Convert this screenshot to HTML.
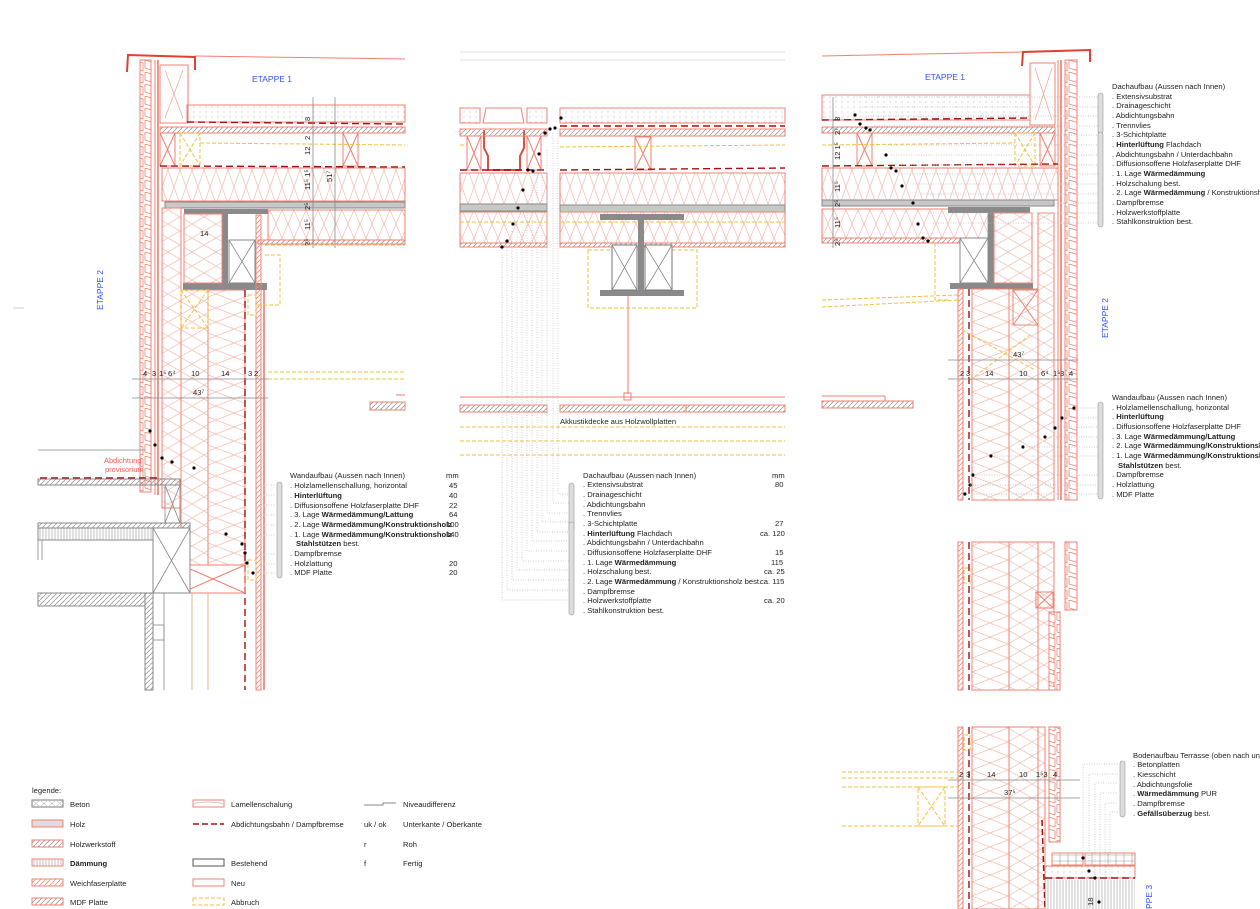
<!DOCTYPE html>
<html><head><meta charset="utf-8"><style>
html,body{margin:0;padding:0;background:#fff;}
svg{display:block;font-family:"Liberation Sans",sans-serif;}
.t{font-size:7.6px;fill:#222;}
.b{font-weight:bold;}
.bl{fill:#3050ff;font-size:8.5px;}
.r{stroke:#f08070;fill:none;stroke-width:1;}
.rd{stroke:#e05040;fill:none;stroke-width:1.2;}
.y{stroke:#f5c040;fill:none;stroke-dasharray:4 2;stroke-width:1;}
.g{stroke:#888;fill:none;stroke-width:0.8;}
.d{stroke:#bbb;fill:none;stroke-width:0.7;stroke-dasharray:1 1.5;}
.mb{stroke:#a01010;fill:none;stroke-width:1.4;stroke-dasharray:7 4;}
</style></head><body>
<svg width="1260" height="909" viewBox="0 0 1260 909" xmlns="http://www.w3.org/2000/svg">
<defs>
<pattern id="insh" width="12" height="34" patternUnits="userSpaceOnUse"><path d="M0,0 L12,34 M12,0 L0,34" stroke="#f6b8ad" stroke-width="0.7" fill="none"/></pattern>
<pattern id="insh2" width="12" height="28" patternUnits="userSpaceOnUse"><path d="M0,0 L12,28 M12,0 L0,28" stroke="#f6b8ad" stroke-width="0.7" fill="none"/></pattern>
<pattern id="insv" width="36" height="14" patternUnits="userSpaceOnUse"><path d="M0,0 L36,14 M0,14 L36,0" stroke="#f6b8ad" stroke-width="0.7" fill="none"/></pattern>
<pattern id="insv2" width="24" height="14" patternUnits="userSpaceOnUse"><path d="M0,0 L24,14 M0,14 L24,0" stroke="#f6b8ad" stroke-width="0.7" fill="none"/></pattern>
<pattern id="hat" width="5" height="5" patternUnits="userSpaceOnUse"><path d="M0,5 L5,0" stroke="#999" stroke-width="0.8"/></pattern>
<pattern id="hatr" width="5" height="5" patternUnits="userSpaceOnUse"><path d="M0,5 L5,0" stroke="#f09080" stroke-width="0.8"/></pattern>
<pattern id="dots" width="6" height="5" patternUnits="userSpaceOnUse"><circle cx="2" cy="2" r="0.5" fill="#999"/></pattern>
<pattern id="clad" width="12" height="12" patternUnits="userSpaceOnUse"><path d="M1,0 L11,3 L11,11 L1,8 Z" stroke="#f08070" fill="#fff" stroke-width="0.8"/></pattern>
<pattern id="vh" width="3" height="10" patternUnits="userSpaceOnUse"><path d="M1,0 L1,10" stroke="#999" stroke-width="0.6"/></pattern>
<pattern id="grid" width="8" height="6" patternUnits="userSpaceOnUse"><path d="M0,3 L8,3 M4,0 L4,6" stroke="#999" stroke-width="0.6"/></pattern>
</defs>

<!-- ========== LEFT DETAIL ========== -->
<path d="M127,72 L128,55 L195,57 L195,70" stroke="#e04030" stroke-width="2" fill="none"/>
<line x1="195" y1="56" x2="405" y2="59" class="r"/>
<rect x="140" y="60" width="11" height="432" fill="url(#clad)" stroke="#f08070"/>
<line x1="155" y1="60" x2="155" y2="495" class="r"/><line x1="158" y1="60" x2="158" y2="495" class="rd"/>
<rect x="160" y="65" width="28" height="58" class="r"/>
<path d="M165,70 L183,118 M183,70 L165,118" stroke="#f3a090" stroke-width=".7"/>
<rect x="187" y="105" width="218" height="17" fill="url(#dots)" stroke="#f08070"/>
<line x1="187" y1="122" x2="405" y2="124" class="mb"/>
<rect x="160" y="127" width="245" height="6" fill="url(#hat)" stroke="#f08070"/>
<rect x="160" y="133" width="15" height="33" class="r"/><path d="M160,133 L175,166 M175,133 L160,166" class="r"/>
<rect x="180" y="133" width="20" height="33" class="y"/><path d="M180,133 L200,166 M200,133 L180,166" class="y"/>
<rect x="343" y="133" width="15" height="33" class="r"/><path d="M343,133 L358,166 M358,133 L343,166" class="r"/>
<line x1="200" y1="143" x2="405" y2="145" class="y"/>
<line x1="160" y1="166" x2="405" y2="167" class="mb"/>
<rect x="162" y="168" width="243" height="33" fill="url(#insh)" stroke="#f08070"/>
<rect x="165" y="202" width="240" height="6" fill="#c8c8c8" stroke="#888"/>
<rect x="268" y="210" width="137" height="30" fill="url(#insh2)" stroke="#f08070"/>
<rect x="258" y="240" width="147" height="4" fill="url(#hat)" stroke="#f08070"/>
<rect x="184" y="209" width="84" height="5" fill="#8a8a8a"/>
<rect x="222" y="214" width="6" height="69" fill="#8a8a8a"/>
<rect x="183" y="283" width="84" height="7" fill="#8a8a8a"/>
<rect x="229" y="240" width="26" height="43" fill="#fff" stroke="#888"/><path d="M229,240 L255,283 M255,240 L229,283" class="g"/>
<rect x="184" y="214" width="38" height="69" fill="url(#insv2)" stroke="#f08070"/>
<text x="200" y="236" class="t">14</text>
<line x1="313" y1="97" x2="313" y2="248" class="g"/><line x1="335" y1="97" x2="335" y2="248" class="g"/>
<g class="t"><text transform="translate(310,121) rotate(-90)">8</text><text transform="translate(310,140) rotate(-90)">2</text><text transform="translate(310,155) rotate(-90)">12</text><text transform="translate(310,190) rotate(-90)">11⁵ 1⁵</text><text transform="translate(332,182) rotate(-90)">51⁷</text><text transform="translate(310,210) rotate(-90)">2⁵</text><text transform="translate(310,230) rotate(-90)">11⁵</text><text transform="translate(310,246) rotate(-90)">2⁵</text></g>
<!-- wall -->
<rect x="162" y="208" width="19" height="300" fill="url(#insv2)" stroke="#f08070"/>
<rect x="181" y="290" width="27" height="275" fill="url(#insv2)" stroke="#f08070"/>
<rect x="208" y="290" width="37" height="275" fill="url(#insv)" stroke="#f08070"/>
<line x1="245" y1="290" x2="245" y2="690" class="mb"/>
<rect x="256" y="215" width="5" height="475" fill="url(#hatr)" stroke="#f08070"/>
<line x1="264" y1="290" x2="264" y2="690" class="rd"/>
<rect x="181" y="290" width="27" height="38" class="y"/><path d="M181,290 L208,328 M208,290 L181,328" class="y"/>
<rect x="248" y="295" width="8" height="20" class="y"/><rect x="248" y="560" width="8" height="20" class="y"/>
<path d="M265,245 L405,245 M265,255 L280,255 L280,305 L255,305" class="y"/>
<line x1="268" y1="372" x2="405" y2="372" class="y"/><line x1="268" y1="379" x2="405" y2="379" class="y"/>
<line x1="132" y1="379" x2="268" y2="379" class="g"/><line x1="132" y1="398" x2="268" y2="398" class="g"/>
<g class="t"><text x="143" y="376">4</text><text x="152" y="376">3</text><text x="159" y="376">1⁵</text><text x="168" y="376">6⁴</text><text x="191" y="376">10</text><text x="221" y="376">14</text><text x="248" y="376">3</text><text x="254" y="376">2</text><text x="193" y="395">43⁷</text></g>
<rect x="370" y="402" width="35" height="8" fill="url(#hat)" stroke="#f08070"/><line x1="396" y1="395" x2="405" y2="395" class="r"/>
<rect x="181" y="565" width="64" height="28" class="r"/><path d="M181,565 L245,593 M245,565 L181,593" class="r"/>
<line x1="192" y1="593" x2="192" y2="690" stroke="#d0a060" stroke-width=".7"/><line x1="208" y1="593" x2="208" y2="690" stroke="#d0a060" stroke-width=".7"/>
<!-- lower-left existing -->
<line x1="38" y1="450" x2="145" y2="450" class="g"/>
<text x="104" y="463" fill="#f06050" font-size="7.5px">Abdichtung</text><text x="105" y="472" fill="#f06050" font-size="7.5px">provisorium</text>
<line x1="40" y1="478" x2="157" y2="478" class="mb"/>
<rect x="38" y="479" width="142" height="6" fill="url(#hat)" stroke="#888"/>
<rect x="165" y="485" width="15" height="38" class="g"/><path d="M165,485 L180,523 M180,485 L165,523" class="g"/>
<rect x="38" y="523" width="152" height="5" fill="url(#hat)" stroke="#888"/>
<rect x="38" y="528" width="115" height="12" fill="url(#vh)" stroke="#888"/>
<line x1="38" y1="540" x2="38" y2="560" class="g"/><line x1="42" y1="540" x2="42" y2="560" class="g"/>
<rect x="153" y="528" width="37" height="65" fill="#fff" stroke="#888"/><path d="M153,528 L190,593 M190,528 L153,593" class="g"/>
<rect x="38" y="593" width="107" height="13" fill="url(#hat)" stroke="#888"/>
<rect x="145" y="593" width="8" height="97" fill="url(#hat)" stroke="#888"/><line x1="164" y1="593" x2="164" y2="690" class="g"/>
<rect x="153" y="625" width="11" height="15" class="g"/>
<g fill="#000"><circle cx="150" cy="431" r="1.6"/><circle cx="155" cy="445" r="1.6"/><circle cx="162" cy="458" r="1.6"/><circle cx="172" cy="462" r="1.6"/><circle cx="194" cy="468" r="1.6"/><circle cx="226" cy="534" r="1.6"/><circle cx="242" cy="544" r="1.6"/><circle cx="245" cy="553" r="1.6"/><circle cx="247" cy="563" r="1.6"/><circle cx="253" cy="573" r="1.6"/></g>
<text x="252" y="82" class="bl">ETAPPE 1</text>
<text transform="translate(103,310) rotate(-90)" class="bl">ETAPPE 2</text>
<line x1="13" y1="308" x2="24" y2="308" stroke="#ccc"/>
<g class="d"><path d="M256,485 H276 M256,495 H276 M256,505 H276 M256,515 H276 M256,525 H276 M256,535 H276 M256,554 H276 M256,564 H276 M256,573 H276"/></g>
<rect x="277" y="482" width="5" height="96" rx="2.5" fill="#ddd" stroke="#999" stroke-width=".6"/>
<g class="t">
<text x="290" y="478">Wandaufbau (Aussen nach Innen)</text><text x="446" y="478">mm</text>
<text x="290" y="488">.  Holzlamellenschallung, horizontal</text><text x="449" y="488">45</text>
<text x="290" y="498">.  <tspan class="b">Hinterlüftung</tspan></text><text x="449" y="498">40</text>
<text x="290" y="508">.  Diffusionsoffene Holzfaserplatte DHF</text><text x="449" y="508">22</text>
<text x="290" y="517">.  3. Lage <tspan class="b">Wärmedämmung/Lattung</tspan></text><text x="449" y="517">64</text>
<text x="290" y="527">.  2. Lage <tspan class="b">Wärmedämmung/Konstruktionsholz</tspan></text><text x="446" y="527">100</text>
<text x="290" y="537">.  1. Lage <tspan class="b">Wärmedämmung/Konstruktionsholz</tspan></text><text x="446" y="537">140</text>
<text x="296" y="546"><tspan class="b">Stahlstützen</tspan> best.</text>
<text x="290" y="556">.  Dampfbremse</text>
<text x="290" y="566">.  Holzlattung</text><text x="449" y="566">20</text>
<text x="290" y="575">.  MDF Platte</text><text x="449" y="575">20</text>
</g>

<!-- ========== MIDDLE DETAIL ========== -->
<line x1="460" y1="52" x2="785" y2="52" stroke="#ddd"/><line x1="460" y1="60" x2="785" y2="60" stroke="#ddd"/>
<rect x="460" y="108" width="20" height="15" fill="url(#dots)" stroke="#f08070"/>
<rect x="527" y="108" width="20" height="15" fill="url(#dots)" stroke="#f08070"/>
<rect x="560" y="108" width="225" height="15" fill="url(#dots)" stroke="#f08070"/>
<path d="M483,123 L486,108 L521,108 L524,123 Z" class="r"/>
<path d="M484,130 L484,148 L488,156 L488,170 L520,170 L520,156 L524,148 L524,130" stroke="#e05040" stroke-width="2" fill="none"/>
<rect x="460" y="129" width="87" height="7" fill="url(#hat)" stroke="#f08070"/>
<rect x="560" y="129" width="225" height="7" fill="url(#hat)" stroke="#f08070"/>
<line x1="560" y1="126" x2="785" y2="126" class="mb"/>
<rect x="467" y="136" width="14" height="34" class="r"/><path d="M467,136 L481,170 M481,136 L467,170" class="r"/>
<rect x="527" y="136" width="14" height="34" class="r"/><path d="M527,136 L541,170 M541,136 L527,170" class="r"/>
<rect x="635" y="137" width="16" height="33" class="r"/><path d="M635,137 L651,170 M651,137 L635,170" class="r"/>
<line x1="560" y1="147" x2="785" y2="145" class="y"/><line x1="460" y1="145" x2="467" y2="145" class="y"/>
<line x1="460" y1="170" x2="547" y2="170" class="mb"/><line x1="560" y1="170" x2="785" y2="168" class="mb"/>
<rect x="460" y="173" width="87" height="32" fill="url(#insh)" stroke="#f08070"/>
<rect x="560" y="173" width="225" height="32" fill="url(#insh)" stroke="#f08070"/>
<rect x="460" y="204" width="87" height="7" fill="#c8c8c8" stroke="#888"/>
<rect x="560" y="205" width="225" height="7" fill="#c8c8c8" stroke="#888"/>
<rect x="460" y="212" width="87" height="31" fill="url(#insh2)" stroke="#f08070"/>
<rect x="560" y="212" width="225" height="31" fill="url(#insh2)" stroke="#f08070"/>
<line x1="460" y1="222" x2="547" y2="222" class="y"/><line x1="560" y1="222" x2="785" y2="222" class="y"/>
<rect x="460" y="243" width="87" height="4" fill="url(#hat)" stroke="#f08070"/>
<rect x="560" y="243" width="225" height="4" fill="url(#hat)" stroke="#f08070"/>
<rect x="588" y="250" width="109" height="58" class="y"/>
<rect x="600" y="214" width="84" height="6" fill="#8a8a8a"/>
<rect x="638" y="220" width="6" height="70" fill="#8a8a8a"/>
<rect x="600" y="290" width="84" height="6" fill="#8a8a8a"/>
<rect x="612" y="245" width="25" height="45" fill="#fff" stroke="#777"/><path d="M612,245 L637,290 M637,245 L612,290" class="g"/>
<rect x="645" y="245" width="27" height="45" fill="#fff" stroke="#777"/><path d="M645,245 L672,290 M672,245 L645,290" class="g"/>
<line x1="628" y1="296" x2="628" y2="394" class="r"/><rect x="624" y="393" width="7" height="7" class="r"/>
<line x1="460" y1="397" x2="785" y2="397" class="r"/>
<rect x="460" y="405" width="87" height="7" fill="url(#hat)" stroke="#f08070"/>
<rect x="560" y="405" width="225" height="7" fill="url(#hat)" stroke="#f08070"/>
<line x1="686" y1="405" x2="686" y2="412" class="r"/>
<line x1="460" y1="427" x2="785" y2="427" class="y"/><line x1="460" y1="441" x2="785" y2="441" class="y"/><line x1="460" y1="455" x2="785" y2="455" class="y"/>
<text x="560" y="424" class="t">Akkustikdecke aus Holzwollplatten</text>
<g class="d">
<path d="M502,247 V600 H570 M507,240 V590 H570 M512,231 V580 H570 M517,222 V570 H570 M522,212 V561 H570 M527,200 V551 H570 M532,180 V541 H570 M537,172 V532 H570 M542,160 V522 H570 M547,150 V513 H570 M553,133 V503 H570 M558,128 V494 H570"/>
</g>
<g fill="#000"><circle cx="502" cy="247" r="1.6"/><circle cx="507" cy="241" r="1.6"/><circle cx="513" cy="224" r="1.6"/><circle cx="518" cy="208" r="1.6"/><circle cx="523" cy="190" r="1.6"/><circle cx="528" cy="170" r="1.6"/><circle cx="533" cy="171" r="1.6"/><circle cx="539" cy="154" r="1.6"/><circle cx="545" cy="133" r="1.6"/><circle cx="550" cy="129" r="1.6"/><circle cx="555" cy="128" r="1.6"/><circle cx="561" cy="118" r="1.6"/></g>
<rect x="569" y="483" width="5" height="49" rx="2.5" fill="#ddd" stroke="#999" stroke-width=".6"/>
<rect x="569" y="522" width="5" height="93" rx="2.5" fill="#ddd" stroke="#999" stroke-width=".6"/>
<g class="t">
<text x="583" y="478">Dachaufbau (Aussen nach Innen)</text><text x="772" y="478">mm</text>
<text x="583" y="487">.  Extensivsubstrat</text><text x="775" y="487">80</text>
<text x="583" y="497">.  Drainageschicht</text>
<text x="583" y="507">.  Abdichtungsbahn</text>
<text x="583" y="516">.  Trennvlies</text>
<text x="583" y="526">.  3-Schichtplatte</text><text x="775" y="526">27</text>
<text x="583" y="536">.  <tspan class="b">Hinterlüftung</tspan> Flachdach</text><text x="760" y="536">ca. 120</text>
<text x="583" y="545">.  Abdichtungsbahn / Unterdachbahn</text>
<text x="583" y="555">.  Diffusionsoffene Holzfaserplatte DHF</text><text x="775" y="555">15</text>
<text x="583" y="565">.  1. Lage <tspan class="b">Wärmedämmung</tspan></text><text x="771" y="565">115</text>
<text x="583" y="574">.  Holzschalung best.</text><text x="764" y="574">ca. 25</text>
<text x="583" y="584">.  2. Lage <tspan class="b">Wärmedämmung</tspan> / Konstruktionsholz best.</text><text x="760" y="584">ca. 115</text>
<text x="583" y="594">.  Dampfbremse</text>
<text x="583" y="603">.  Holzwerkstoffplatte</text><text x="764" y="603">ca. 20</text>
<text x="583" y="613">.  Stahlkonstruktion best.</text>
</g>

<!-- ========== RIGHT DETAIL ========== -->
<line x1="822" y1="56" x2="1022" y2="52" class="r"/>
<path d="M1022,66 L1023,52 L1090,50 L1090,62" stroke="#e04030" stroke-width="2" fill="none"/>
<rect x="1065" y="60" width="12" height="440" fill="url(#clad)" stroke="#f08070"/>
<rect x="1030" y="63" width="25" height="62" class="r"/><path d="M1035,68 L1052,120 M1052,68 L1035,120" stroke="#f3a090" stroke-width=".7"/>
<line x1="1058" y1="60" x2="1058" y2="500" class="r"/><line x1="1061" y1="60" x2="1061" y2="500" class="rd"/>
<rect x="822" y="95" width="208" height="25" fill="url(#dots)" stroke="#f08070"/>
<line x1="822" y1="120" x2="1030" y2="118" class="mb"/>
<rect x="822" y="127" width="233" height="6" fill="url(#hat)" stroke="#f08070"/>
<rect x="857" y="133" width="15" height="33" class="r"/><path d="M857,133 L872,166 M872,133 L857,166" class="r"/>
<rect x="1015" y="133" width="20" height="33" class="y"/><path d="M1015,133 L1035,166 M1035,133 L1015,166" class="y"/>
<rect x="1040" y="133" width="15" height="33" class="r"/><path d="M1040,133 L1055,166 M1055,133 L1040,166" class="r"/>
<line x1="822" y1="145" x2="1015" y2="143" class="y"/>
<line x1="822" y1="166" x2="1058" y2="164" class="mb"/>
<rect x="822" y="168" width="236" height="32" fill="url(#insh)" stroke="#f08070"/>
<rect x="822" y="200" width="232" height="6" fill="#c8c8c8" stroke="#888"/>
<rect x="822" y="209" width="166" height="29" fill="url(#insh2)" stroke="#f08070"/>
<rect x="822" y="238" width="138" height="5" fill="url(#hat)" stroke="#f08070"/>
<rect x="948" y="207" width="82" height="6" fill="#8a8a8a"/>
<rect x="988" y="213" width="6" height="70" fill="#8a8a8a"/>
<rect x="950" y="283" width="83" height="6" fill="#8a8a8a"/>
<rect x="960" y="238" width="28" height="45" fill="#fff" stroke="#888"/><path d="M960,238 L988,283 M988,238 L960,283" class="g"/>
<rect x="994" y="213" width="38" height="70" fill="url(#insv2)" stroke="#f08070"/>
<path d="M935,243 L935,300 L950,300 M822,300 L958,295 M822,307 L958,300" class="y"/>
<line x1="833" y1="97" x2="833" y2="248" class="g"/>
<g class="t"><text transform="translate(840,121) rotate(-90)">8</text><text transform="translate(840,135) rotate(-90)">2⁷</text><text transform="translate(840,160) rotate(-90)">12 1⁵</text><text transform="translate(840,192) rotate(-90)">11⁵</text><text transform="translate(840,207) rotate(-90)">2⁵</text><text transform="translate(840,228) rotate(-90)">11⁵</text><text transform="translate(840,246) rotate(-90)">2⁵</text></g>
<g>
<rect x="958" y="289" width="5" height="211" fill="url(#hatr)" stroke="#f08070"/>
<line x1="969" y1="289" x2="969" y2="500" class="mb"/>
<rect x="972" y="289" width="37" height="211" fill="url(#insv)" stroke="#f08070"/>
<rect x="1009" y="289" width="29" height="211" fill="url(#insv2)" stroke="#f08070"/>
<rect x="1038" y="213" width="16" height="287" fill="url(#insv2)" stroke="#f08070"/>
</g>
<rect x="1013" y="290" width="25" height="35" class="r"/><path d="M1013,290 L1038,325 M1038,290 L1013,325" class="r"/>
<path d="M962,330 L1035,370 M970,380 L1030,335" class="y"/>
<line x1="948" y1="360" x2="1078" y2="360" class="g"/><line x1="948" y1="379" x2="1078" y2="379" class="g"/>
<g class="t"><text x="960" y="376">2</text><text x="966" y="376">3</text><text x="985" y="376">14</text><text x="1019" y="376">10</text><text x="1041" y="376">6⁴</text><text x="1053" y="376">1⁵</text><text x="1060" y="376">3</text><text x="1069" y="376">4</text><text x="1013" y="357">43⁷</text></g>
<line x1="822" y1="396" x2="885" y2="396" class="r"/><line x1="885" y1="396" x2="885" y2="401" class="r"/>
<rect x="822" y="401" width="91" height="7" fill="url(#hat)" stroke="#f08070"/>
<text x="925" y="80" class="bl">ETAPPE 1</text>
<text transform="translate(1108,338) rotate(-90)" class="bl">ETAPPE 2</text>
<g fill="#000"><circle cx="855" cy="115" r="1.6"/><circle cx="860" cy="124" r="1.6"/><circle cx="866" cy="128" r="1.6"/><circle cx="870" cy="130" r="1.6"/><circle cx="886" cy="155" r="1.6"/><circle cx="891" cy="168" r="1.6"/><circle cx="896" cy="171" r="1.6"/><circle cx="902" cy="186" r="1.6"/><circle cx="913" cy="203" r="1.6"/><circle cx="918" cy="224" r="1.6"/><circle cx="923" cy="238" r="1.6"/><circle cx="928" cy="241" r="1.6"/>
<circle cx="1074" cy="408" r="1.6"/><circle cx="1062" cy="418" r="1.6"/><circle cx="1055" cy="428" r="1.6"/><circle cx="1045" cy="437" r="1.6"/><circle cx="1023" cy="447" r="1.6"/><circle cx="991" cy="456" r="1.6"/><circle cx="973" cy="475" r="1.6"/><circle cx="970" cy="485" r="1.6"/><circle cx="965" cy="494" r="1.6"/></g>
<g class="d"><path d="M856,95 V97 H1100 M862,107 H1100 M868,116 H1100 M874,126 H1100 M886,135 H1100 M886,145 H1100 M891,155 H1100 M896,165 H1100 M902,174 H1100 M913,184 H1100 M918,194 H1100 M923,203 H1100 M928,213 H1100 M933,223 H1100"/>
<path d="M1075,408 H1100 M1063,418 H1100 M1056,427 H1100 M1046,437 H1100 M1024,447 H1100 M992,456 H1100 M974,475 H1100 M970,485 H1100 M966,494 H1100"/></g>
<rect x="1098" y="93" width="5" height="41" rx="2.5" fill="#ddd" stroke="#999" stroke-width=".6"/>
<rect x="1098" y="132" width="5" height="95" rx="2.5" fill="#ddd" stroke="#999" stroke-width=".6"/>
<rect x="1098" y="402" width="5" height="97" rx="2.5" fill="#ddd" stroke="#999" stroke-width=".6"/>
<g class="t">
<text x="1112" y="89">Dachaufbau (Aussen nach Innen)</text>
<text x="1112" y="99">.  Extensivsubstrat</text>
<text x="1112" y="108">.  Drainageschicht</text>
<text x="1112" y="118">.  Abdichtungsbahn</text>
<text x="1112" y="128">.  Trennvlies</text>
<text x="1112" y="137">.  3-Schichtplatte</text>
<text x="1112" y="147">.  <tspan class="b">Hinterlüftung</tspan> Flachdach</text>
<text x="1112" y="157">.  Abdichtungsbahn / Unterdachbahn</text>
<text x="1112" y="166">.  Diffusionsoffene Holzfaserplatte DHF</text>
<text x="1112" y="176">.  1. Lage <tspan class="b">Wärmedämmung</tspan></text>
<text x="1112" y="186">.  Holzschalung best.</text>
<text x="1112" y="195">.  2. Lage <tspan class="b">Wärmedämmung</tspan> / Konstruktionsholz</text>
<text x="1112" y="205">.  Dampfbremse</text>
<text x="1112" y="215">.  Holzwerkstoffplatte</text>
<text x="1112" y="224">.  Stahlkonstruktion best.</text>
<text x="1112" y="400">Wandaufbau (Aussen nach Innen)</text>
<text x="1112" y="410">.  Holzlamellenschallung, horizontal</text>
<text x="1112" y="419">.  <tspan class="b">Hinterlüftung</tspan></text>
<text x="1112" y="429">.  Diffusionsoffene Holzfaserplatte DHF</text>
<text x="1112" y="439">.  3. Lage <tspan class="b">Wärmedämmung/Lattung</tspan></text>
<text x="1112" y="448">.  2. Lage <tspan class="b">Wärmedämmung/Konstruktionsholz</tspan></text>
<text x="1112" y="458">.  1. Lage <tspan class="b">Wärmedämmung/Konstruktionsholz</tspan></text>
<text x="1118" y="468"><tspan class="b">Stahlstützen</tspan> best.</text>
<text x="1112" y="477">.  Dampfbremse</text>
<text x="1112" y="487">.  Holzlattung</text>
<text x="1112" y="497">.  MDF Platte</text>
</g>
<rect x="958" y="542" width="5" height="148" fill="url(#hatr)" stroke="#f08070"/>
<line x1="969" y1="542" x2="969" y2="690" class="mb"/>
<rect x="972" y="542" width="37" height="148" fill="url(#insv)" stroke="#f08070"/>
<rect x="1009" y="542" width="29" height="148" fill="url(#insv2)" stroke="#f08070"/>
<rect x="1038" y="542" width="16" height="148" fill="url(#insv2)" stroke="#f08070"/>
<rect x="1065" y="542" width="12" height="68" fill="url(#clad)" stroke="#f08070"/>
<rect x="1036" y="592" width="17" height="16" class="r"/><path d="M1036,592 L1053,608 M1053,592 L1036,608" class="r"/>
<rect x="1049" y="612" width="11" height="78" fill="url(#clad)" stroke="#f08070"/>
<rect x="964" y="568" width="6" height="15" class="y"/>
<rect x="958" y="727" width="5" height="182" fill="url(#hatr)" stroke="#f08070"/>
<line x1="969" y1="727" x2="969" y2="909" class="mb"/>
<rect x="972" y="727" width="37" height="182" fill="url(#insv)" stroke="#f08070"/>
<rect x="1009" y="727" width="29" height="182" fill="url(#insv2)" stroke="#f08070"/>
<rect x="1038" y="727" width="7" height="182" fill="url(#insv2)" stroke="#f08070"/>
<rect x="1049" y="727" width="11" height="115" fill="url(#clad)" stroke="#f08070"/>
<path d="M1042,820 L1045,909" stroke="#a01010" stroke-width="1.5" stroke-dasharray="6 3"/>
<rect x="964" y="735" width="6" height="15" class="y"/>
<path d="M842,772 H958 M842,778 H958 M842,787 H958 M842,826 H958" class="y"/>
<rect x="918" y="787" width="27" height="39" class="y"/><path d="M918,787 L945,826 M945,787 L918,826" class="y"/>
<line x1="948" y1="780" x2="1080" y2="780" class="g"/><line x1="948" y1="798" x2="1080" y2="798" class="g"/>
<g class="t"><text x="959" y="777">2</text><text x="966" y="777">3</text><text x="987" y="777">14</text><text x="1019" y="777">10</text><text x="1036" y="777">1⁵3</text><text x="1053" y="777">4</text><text x="1004" y="795">37⁵</text></g>
<rect x="1052" y="853" width="31" height="12" fill="url(#grid)" stroke="#f08070"/>
<rect x="1085" y="853" width="50" height="12" fill="url(#grid)" stroke="#f08070"/>
<rect x="1045" y="866" width="90" height="12" fill="url(#dots)" stroke="#f08070"/>
<line x1="1045" y1="878" x2="1135" y2="878" class="mb"/>
<rect x="1045" y="880" width="90" height="29" fill="url(#vh)"/>
<text transform="translate(1093,906) rotate(-90)" class="t">18</text>
<g fill="#000"><circle cx="1083" cy="858" r="1.6"/><circle cx="1089" cy="871" r="1.6"/><circle cx="1095" cy="878" r="1.6"/><circle cx="1099" cy="902" r="1.6"/></g>
<g class="d"><path d="M1083,853 V764 H1118 M1089,866 V774 H1118 M1095,875 V783 H1118 M1100,880 V793 H1118 M1105,880 V803 H1118 M1110,880 V812 H1118"/></g>
<rect x="1120" y="761" width="5" height="56" rx="2.5" fill="#ddd" stroke="#999" stroke-width=".6"/>
<g class="t">
<text x="1133" y="758">Bodenaufbau Terrasse (oben nach unten)</text>
<text x="1133" y="767">.  Betonplatten</text>
<text x="1133" y="777">.  Kiesschicht</text>
<text x="1133" y="787">.  Abdichtungsfolie</text>
<text x="1133" y="796">.  <tspan class="b">Wärmedämmung</tspan> PUR</text>
<text x="1133" y="806">.  Dampfbremse</text>
<text x="1133" y="816">.  <tspan class="b">Gefällsüberzug</tspan> best.</text>
</g>
<text transform="translate(1152,909) rotate(-90)" class="bl">PPE 3</text>

<!-- ========== LEGEND ========== -->
<g class="t">
<text x="32" y="793">legende:</text>
<rect x="32" y="800" width="31" height="7" fill="#fff" stroke="#777"/><path d="M32,800 L40,807 L48,800 L56,807 L63,800 M32,807 L40,800 L48,807 L56,800 L63,807" stroke="#bbb" stroke-width=".6" fill="none"/>
<text x="70" y="807">Beton</text>
<rect x="32" y="820" width="31" height="7" fill="#ddd" stroke="#f08070"/><text x="70" y="827">Holz</text>
<rect x="32" y="840" width="31" height="7" fill="url(#hat)" stroke="#f08070"/><text x="70" y="847">Holzwerkstoff</text>
<rect x="32" y="859" width="31" height="7" fill="url(#vh)" stroke="#f08070"/><text x="70" y="866" class="b">Dämmung</text>
<rect x="32" y="879" width="31" height="7" fill="url(#hatr)" stroke="#f08070"/><text x="70" y="886">Weichfaserplatte</text>
<rect x="32" y="898" width="31" height="7" fill="url(#hat)" stroke="#f08070"/><text x="70" y="905">MDF Platte</text>
<rect x="193" y="800" width="31" height="7" fill="#fff" stroke="#f08070"/><path d="M193,804 Q208,800 224,804" stroke="#ccc" fill="none"/><text x="231" y="807">Lamellenschalung</text>
<line x1="193" y1="824" x2="224" y2="824" stroke="#a01010" stroke-width="1.4" stroke-dasharray="6 3"/><text x="231" y="827">Abdichtungsbahn / Dampfbremse</text>
<rect x="193" y="859" width="31" height="7" fill="#fff" stroke="#555"/><text x="231" y="866">Bestehend</text>
<rect x="193" y="879" width="31" height="7" fill="#fff" stroke="#f08070"/><text x="231" y="886">Neu</text>
<rect x="193" y="898" width="31" height="7" class="y"/><text x="231" y="905">Abbruch</text>
<path d="M364,805 H383 V803 H396" stroke="#888" fill="none"/><text x="403" y="807">Niveaudifferenz</text>
<text x="364" y="827">uk / ok</text><text x="403" y="827">Unterkante / Oberkante</text>
<text x="364" y="847">r</text><text x="403" y="847">Roh</text>
<text x="364" y="866">f</text><text x="403" y="866">Fertig</text>
</g>
</svg>
</body></html>
